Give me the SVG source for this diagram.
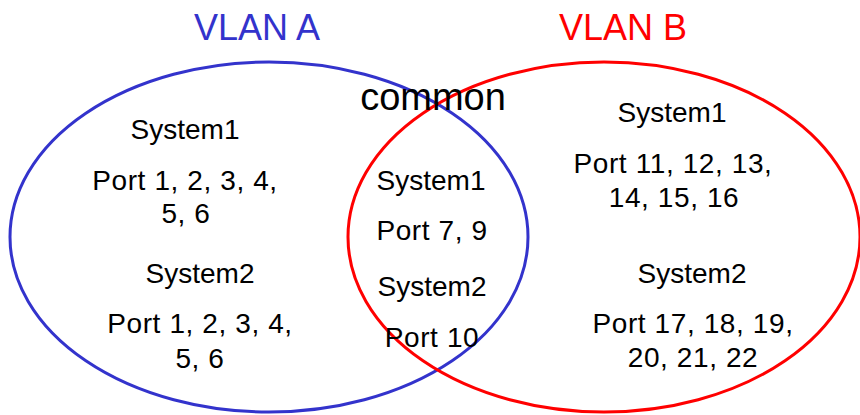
<svg xmlns="http://www.w3.org/2000/svg" width="860" height="415" viewBox="0 0 860 415">
<style>
.t{font-family:"Liberation Sans",Arial,sans-serif;font-size:28px;fill:#000;text-anchor:middle}
.p{letter-spacing:0.6px}
.title{font-family:"Liberation Sans",Arial,sans-serif;font-size:36px;text-anchor:middle}
.ell{fill:none;stroke-width:3}
</style>
<rect width="860" height="415" fill="#fff"/>
<g id="vlan-a">
<ellipse class="ell" cx="269" cy="237" rx="259" ry="175" stroke="#3333cc"/>
<text class="title" x="257" y="40" fill="#3333cc">VLAN A</text>
</g>
<g id="vlan-b">
<ellipse class="ell" cx="604" cy="237" rx="256" ry="175" stroke="#ff0000"/>
<text class="title" x="623" y="40" fill="#ff0000">VLAN B</text>
</g>
<g id="vlan-a-only">
<text class="t" x="185" y="139">System1</text>
<text class="t p" x="185" y="190">Port 1, 2, 3, 4,</text>
<text class="t p" x="186" y="223">5, 6</text>
<text class="t" x="200" y="283">System2</text>
<text class="t p" x="200" y="333">Port 1, 2, 3, 4,</text>
<text class="t p" x="200" y="368">5, 6</text>
</g>
<g id="common">
<text class="t" x="433" y="110" style="font-size:38px">common</text>
<text class="t" x="431" y="190">System1</text>
<text class="t p" x="432" y="240">Port 7, 9</text>
<text class="t" x="432" y="296">System2</text>
<text class="t p" x="432" y="347">Port 10</text>
</g>
<g id="vlan-b-only">
<text class="t" x="672" y="122">System1</text>
<text class="t p" x="673" y="173">Port 11, 12, 13,</text>
<text class="t p" x="674" y="207">14, 15, 16</text>
<text class="t" x="692" y="283">System2</text>
<text class="t p" x="693" y="333">Port 17, 18, 19,</text>
<text class="t p" x="693" y="367">20, 21, 22</text>
</g>
<g id="connectors"/>
</svg>
